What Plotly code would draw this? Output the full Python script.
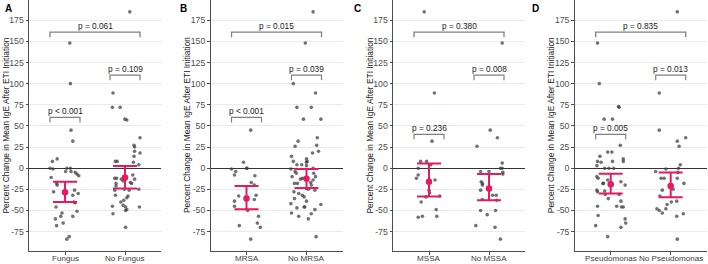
import plotly.graph_objects as go

W, H = 708, 264
FONT = "Liberation Sans, Arial, sans-serif"
PINK = "#E8195E"
PT = "rgba(60,60,60,0.72)"

# ---------------- data ----------------
panel_letters = ["A", "B", "C", "D"]
a_groups = ["Fungus", "No Fungus"]
b_groups = ["MRSA", "No MRSA"]
c_groups = ["MSSA", "No MSSA"]
d_groups = ["Pseudomonas", "No Pseudomonas"]

# individual percent changes (y) and horizontal jitter (dx)
a1_y = [148, 100, 45, 32, 11, 8, 0, -1, 0, 0, -4, -4, -5, -7, -9, -11, -18, -20, -28, -26, -30, -32,
        -40, -41, -46, -51, -53, -57, -60, -57, -65, -68, -81, -84]
a1_dx = [.08, .09, .10, .13, -.13, -.21, -.25, -.20, .03, .09, .01, .10, .17, .20, .23, -.23, -.14, -.13,
         -.19, .16, .22, .13, .15, .17, -.15, .20, -.05, -.07, -.16, .13, -.03, -.14, .07, .03]
a2_y = [185, 89, 72, 72, 58, 57, 36, 27, 25, 20, 18, 14, 7, 4, 8, 8, -8, -12, -12, -13, -13, -15, -17,
        -18, -18, -21, -26, -25, -26, -25, -32, -33, -35, -38, -40, -45, -44, -46, -49, -50, -46, -54, -70]
a2_dx = [.08, -.20, -.21, -.08, .00, .03, .25, .15, .16, .16, .25, .15, .14, .23, -.16, -.13, .13, -.17,
         -.14, -.06, .16, -.03, .09, .11, -.15, -.15, -.17, -.01, .07, .23, -.16, .05, .03, -.02, -.07,
         -.21, -.03, .01, .03, .01, .24, -.20, .01]

b1_y = [45, 7, 0, 0, -1, -4, -8, -9, -17, -20, -33, -32, -39, -45, -37, -50, -57, -65, -70, -68, -84]
b1_dx = [.07, -.05, .00, .01, -.25, -.18, -.20, .14, .08, .13, -.13, .16, -.20, -.20, .13, .02, .20, .18,
         .23, -.12, .07]
b2_y = [185, 148, 100, 89, 72, 72, 58, 58, 36, 32, 26, 27, 20, 18, 14, 8, 11, 8, 7, 4, 4, 3, 0, -1, -4,
        -6, -6, -10, -10, -12, -12, -13, -14, -18, -18, -17, -20, -24, -25, -28, -26, -30, -32, -34, -36,
        -39, -42, -46, -46, -47, -43, -53, -49, -57, -54, -60, -81]
b2_dx = [.11, -.02, -.22, .15, -.16, .08, -.05, .24, .18, -.14, -.19, .17, .20, .10, -.25, -.22, .00, .01,
         .00, -.16, -.08, .00, .11, -.26, -.19, -.17, .12, -.24, .15, -.07, -.03, -.10, .11, -.20, -.15,
         .07, .08, .00, .03, -.21, .14, -.13, -.07, -.04, -.20, .00, -.26, -.04, -.03, -.16, .24, -.25,
         .14, -.13, .08, .03, .16]

c1_y = [185, 89, 32, 8, 8, 4, 0, -8, -12, -14, -26, -29, -34, -33, -40, -49, -57, -58, -57]
c1_dx = [-.08, .09, .05, -.14, -.04, .03, -.18, -.18, -.21, .10, .00, .01, -.05, .18, -.13, .12, .13,
         -.18, -.11]
c2_y = [148, 45, 36, 26, 6, 0, 0, -5, -7, -4, -4, -16, -18, -20, -26, -32, -32, -37, -38, -50, -50, -55,
        -68, -70, -84]
c2_dx = [.22, .02, .14, -.20, .22, .19, .22, .23, .23, -.14, .00, -.13, -.11, -.11, -.14, .06, .12, -.11,
         .13, -.14, .11, -.03, -.22, .10, .19]

d1_y = [148, 100, 73, 72, 58, 58, 27, 14, 19, 19, 8, 7, 8, 11, 8, 3, 0, 0, 0, -10, -12, -14, -18, -18,
        -16, -20, -26, -28, -27, -31, -36, -31, -39, -45, -45, -46, -46, -60, -56, -65, -70, -68, -81]
d1_dx = [-.22, -.19, .13, .14, -.11, .03, .16, -.18, -.05, .02, -.22, -.16, .03, .21, .21, -.23, -.10,
         -.03, .05, -.23, -.21, -.05, -.13, -.12, .17, .24, -.23, -.22, -.10, -.09, -.04, .14, .17, -.22,
         .10, .18, .21, .24, -.21, .25, .17, -.25, -.05]
d2_y = [185, 89, 45, 36, 32, 26, 4, 0, -1, -4, -5, -12, -12, -12, -18, -26, -25, -33, -40, -39, -43, -48,
        -50, -53, -48, -57, -54, -84]
d2_dx = [.11, -.19, -.19, .25, .11, .14, .16, .13, -.08, -.25, .12, -.16, -.11, .11, .22, -.14, .04, -.18,
         .01, .10, -.06, -.23, -.19, -.14, -.08, .10, .21, .11]

# model estimates with 95% CI (pink)
a_est, a_lo, a_hi = [-28.5, -11], [-40, -24], [-16, 2.5]
b_est, b_lo, b_hi = [-36, -12.5], [-48.5, -23.5], [-21, -1]
c_est, c_lo, c_hi = [-16, -24], [-33.5, -38], [5.5, -7]
d_est, d_lo, d_hi = [-19, -21], [-30, -34.5], [-6.5, -5]

# p-values: [within group 1, within group 2, between groups] and bracket heights
a_p = ["p &lt; 0.001", "p = 0.109", "p = 0.061"]
b_p = ["p &lt; 0.001", "p = 0.039", "p = 0.015"]
c_p = ["p = 0.236", "p = 0.008", "p = 0.380"]
d_p = ["p = 0.005", "p = 0.013", "p = 0.835"]
a_br = [60, 110, 161]
b_br = [60, 110, 161]
c_br = [40, 110, 161]
d_br = [40, 110, 161]

y_tick_vals = [-75, -50, -25, 0, 25, 50, 75, 100, 125, 150, 175]
y_tick_text = ["-75", "-50", "-25", "0", "25", "50", "75", "100", "125", "150", "175"]
y_title = "Percent Change in Mean IgE After ETI Initiation"

# ---------------- layout geometry (px) ----------------
plot_left = [29, 210.5, 393, 574.7]
plot_w = 132
letter_x = [3, 178, 352, 530]
bottom = 13.3

panels = [
    (a_groups, a1_y, a1_dx, a2_y, a2_dx, a_est, a_lo, a_hi, a_p, a_br),
    (b_groups, b1_y, b1_dx, b2_y, b2_dx, b_est, b_lo, b_hi, b_p, b_br),
    (c_groups, c1_y, c1_dx, c2_y, c2_dx, c_est, c_lo, c_hi, c_p, c_br),
    (d_groups, d1_y, d1_dx, d2_y, d2_dx, d_est, d_lo, d_hi, d_p, d_br),
]

fig = go.Figure()
annotations = []
layout = {}
TIP = 6
HALF = 0.25
BR_COLOR = "#808080"

for i, (groups, y1, dx1, y2, dx2, est, lo, hi, pv, br) in enumerate(panels):
    n = "" if i == 0 else str(i + 1)
    xa, ya = "x" + n, "y" + n
    # points
    for g, (yy, dd) in enumerate([(y1, dx1), (y2, dx2)]):
        fig.add_trace(go.Scatter(
            x=[g + 1 + d for d in dd], y=yy, mode="markers", xaxis=xa, yaxis=ya,
            marker=dict(size=3.6, color=PT, line=dict(width=0)), hoverinfo="skip", showlegend=False))
    # brackets
    for g in range(2):
        c = g + 1
        fig.add_trace(go.Scatter(
            x=[c - HALF, c - HALF, c + HALF, c + HALF], y=[br[g] - TIP, br[g], br[g], br[g] - TIP],
            mode="lines", xaxis=xa, yaxis=ya, line=dict(color=BR_COLOR, width=1.2),
            hoverinfo="skip", showlegend=False))
        annotations.append(dict(x=c, y=br[g], xref=xa, yref=ya, text=pv[g], showarrow=False,
                                yanchor="bottom", yshift=-1, font=dict(family=FONT, size=8.3, color="#1a1a1a")))
    fig.add_trace(go.Scatter(
        x=[1 - HALF, 1 - HALF, 2 + HALF, 2 + HALF], y=[br[2] - TIP, br[2], br[2], br[2] - TIP],
        mode="lines", xaxis=xa, yaxis=ya, line=dict(color=BR_COLOR, width=1.3),
        hoverinfo="skip", showlegend=False))
    annotations.append(dict(x=1.5, y=br[2], xref=xa, yref=ya, text=pv[2], showarrow=False,
                            yanchor="bottom", yshift=-1, font=dict(family=FONT, size=8.3, color="#1a1a1a")))
    # estimate + CI
    fig.add_trace(go.Scatter(
        x=[1, 2], y=est, mode="markers", xaxis=xa, yaxis=ya,
        marker=dict(size=6.5, color=PINK),
        error_y=dict(type="data", symmetric=False,
                     array=[h - e for h, e in zip(hi, est)],
                     arrayminus=[e - l for e, l in zip(est, lo)],
                     color=PINK, thickness=2, width=12),
        hoverinfo="skip", showlegend=False))

    l = plot_left[i]
    layout["xaxis" + n] = dict(
        domain=[l / W, (l + plot_w) / W], range=[0.4, 2.6], anchor=ya,
        tickvals=[1, 2], showticklabels=False, showgrid=False, zeroline=False,
        showline=True, linecolor="#4d4d4d", linewidth=1, ticks="outside", ticklen=2.5,
        tickcolor="#4d4d4d", automargin=False, fixedrange=True)
    # category labels under the x axis
    for g in range(2):
        annotations.append(dict(x=g + 1, y=0, xref=xa, yref="paper", text=groups[g], showarrow=False,
                                xanchor="center", yanchor="middle", yshift=-7.5,
                                font=dict(family=FONT, size=8.1, color="#3d3d3d")))
    layout["yaxis" + n] = dict(
        domain=[0, 1], range=[-98, 199], anchor=xa,
        tickvals=y_tick_vals, ticktext=y_tick_text,
        showgrid=True, gridcolor="#EBEBEB", gridwidth=1,
        zeroline=True, zerolinecolor="#333333", zerolinewidth=1,
        showline=True, linecolor="#4d4d4d", linewidth=1, ticks="outside", ticklen=2.5,
        tickcolor="#4d4d4d", tickfont=dict(family=FONT, size=8.7, color="#4d4d4d"),
        automargin=False, fixedrange=True)
    annotations.append(dict(x=(l - 24) / W, y=0.5, xref="paper", yref="paper", text=y_title,
                            textangle=-90, showarrow=False, xanchor="center", yanchor="middle",
                            font=dict(family=FONT, size=8.4, color="#1a1a1a")))
    annotations.append(dict(x=letter_x[i] / W, y=1, xref="paper", yref="paper",
                            text="<b>" + panel_letters[i] + "</b>", showarrow=False,
                            xanchor="left", yanchor="top", yshift=-1,
                            font=dict(family=FONT, size=10, color="#000000")))

fig.update_layout(
    width=W, height=H, margin=dict(l=0, r=0, t=0, b=bottom, pad=0),
    paper_bgcolor="white", plot_bgcolor="white", showlegend=False,
    annotations=annotations, **layout)

fig.write_html("out.html", config={"displayModeBar": False},
               post_script="document.body.style.margin='0';document.body.style.padding='0';")
